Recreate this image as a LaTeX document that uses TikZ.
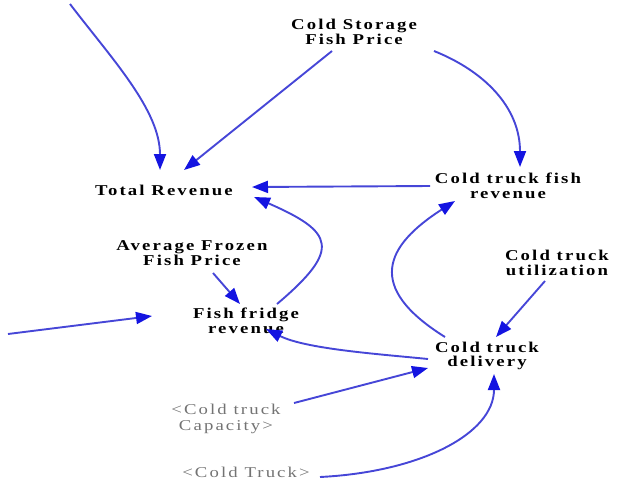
\documentclass[tikz,border=0pt]{standalone}
\usepackage{fontspec}
\setmainfont{Liberation Serif}
\newfontfamily\diagfont{Liberation Serif}[LetterSpace=14, FakeStretch=1.25]
\usepackage{xcolor}
\usetikzlibrary{arrows.meta}

\definecolor{linkblue}{RGB}{70,70,215}
\definecolor{headblue}{RGB}{20,20,225}
\definecolor{shadowgray}{RGB}{115,115,115}

\begin{document}
\begin{tikzpicture}[
            x=1pt, y=-1pt,
            var/.style={align=center, inner sep=0pt, font=\diagfont\bfseries\fontsize{15}{14.5}\selectfont},
            shadowvar/.style={var, text=shadowgray, font=\diagfont\fontsize{15}{15.5}\selectfont},
            link/.style={draw=linkblue, line width=1.9pt, -{Triangle[length=16pt, width=12pt, color=headblue]}}
        ]
        \useasboundingbox (0,0) rectangle (644,499);

        % Revenue side
        \node[var] (storeprice) at (354,32) {Cold Storage\\Fish Price};
        \node[var] (total) at (164,190) {Total Revenue};
        \node[var] (truckrev) at (508,186) {Cold truck fish\\revenue};
        \node[var] (frozenprice) at (192,253) {Average Frozen\\Fish Price};
        \node[var] (fridgerev) at (246,321) {Fish fridge\\revenue};

        % Truck side
        \node[var] (util) at (557,263) {Cold truck\\utilization};
        \node[var] (delivery) at (487,356) {Cold truck\\delivery};
        \node[shadowvar] (capacity) at (226,419) {<Cold truck\\Capacity>};
        \node[shadowvar] (trucks) at (246,472) {<Cold Truck>};

        % Free ends off the edge
        \coordinate (topin) at (70,4);
        \coordinate (leftin) at (8,334);

        % Links
        \draw[link] (topin) .. controls +(42,55) and +(0,-60) .. ([shift={(-4,-20)}]total.center);
        \draw[link] ([shift={(-22,19)}]storeprice.center) -- ([shift={(20,-20)}]total.center);
        \draw[link] ([shift={(80,19)}]storeprice.center) .. controls +(50,20) and +(0,-60) .. ([shift={(12,-19)}]truckrev.center);
        \draw[link] ([shift={(-78,0)}]truckrev.center) -- ([shift={(88,-3)}]total.center);
        \draw[link] ([shift={(31,-17)}]fridgerev.center) .. controls +(65,-55) and +(80,35) .. ([shift={(90,7)}]total.center);
        \draw[link] ([shift={(-42,-19)}]delivery.center) .. controls +(-80,-50) and +(-70,45) .. ([shift={(-53,15)}]truckrev.center);
        \draw[link] ([shift={(21,20)}]frozenprice.center) -- ([shift={(-6,-17)}]fridgerev.center);
        \draw[link] (leftin) -- ([shift={(-94,-5)}]fridgerev.center);
        \draw[link] ([shift={(-59,3)}]delivery.center) .. controls +(-50,-5) and +(40,20) .. ([shift={(20,8)}]fridgerev.center);
        \draw[link] ([shift={(-12,18)}]util.center) -- ([shift={(9,-19)}]delivery.center);
        \draw[link] ([shift={(68,-16)}]capacity.center) -- ([shift={(-59,12)}]delivery.center);
        \draw[link] ([shift={(74,5)}]trucks.center) .. controls +(100,-5) and +(0,60) .. ([shift={(7,18)}]delivery.center);

    \end{tikzpicture}
\end{document}
